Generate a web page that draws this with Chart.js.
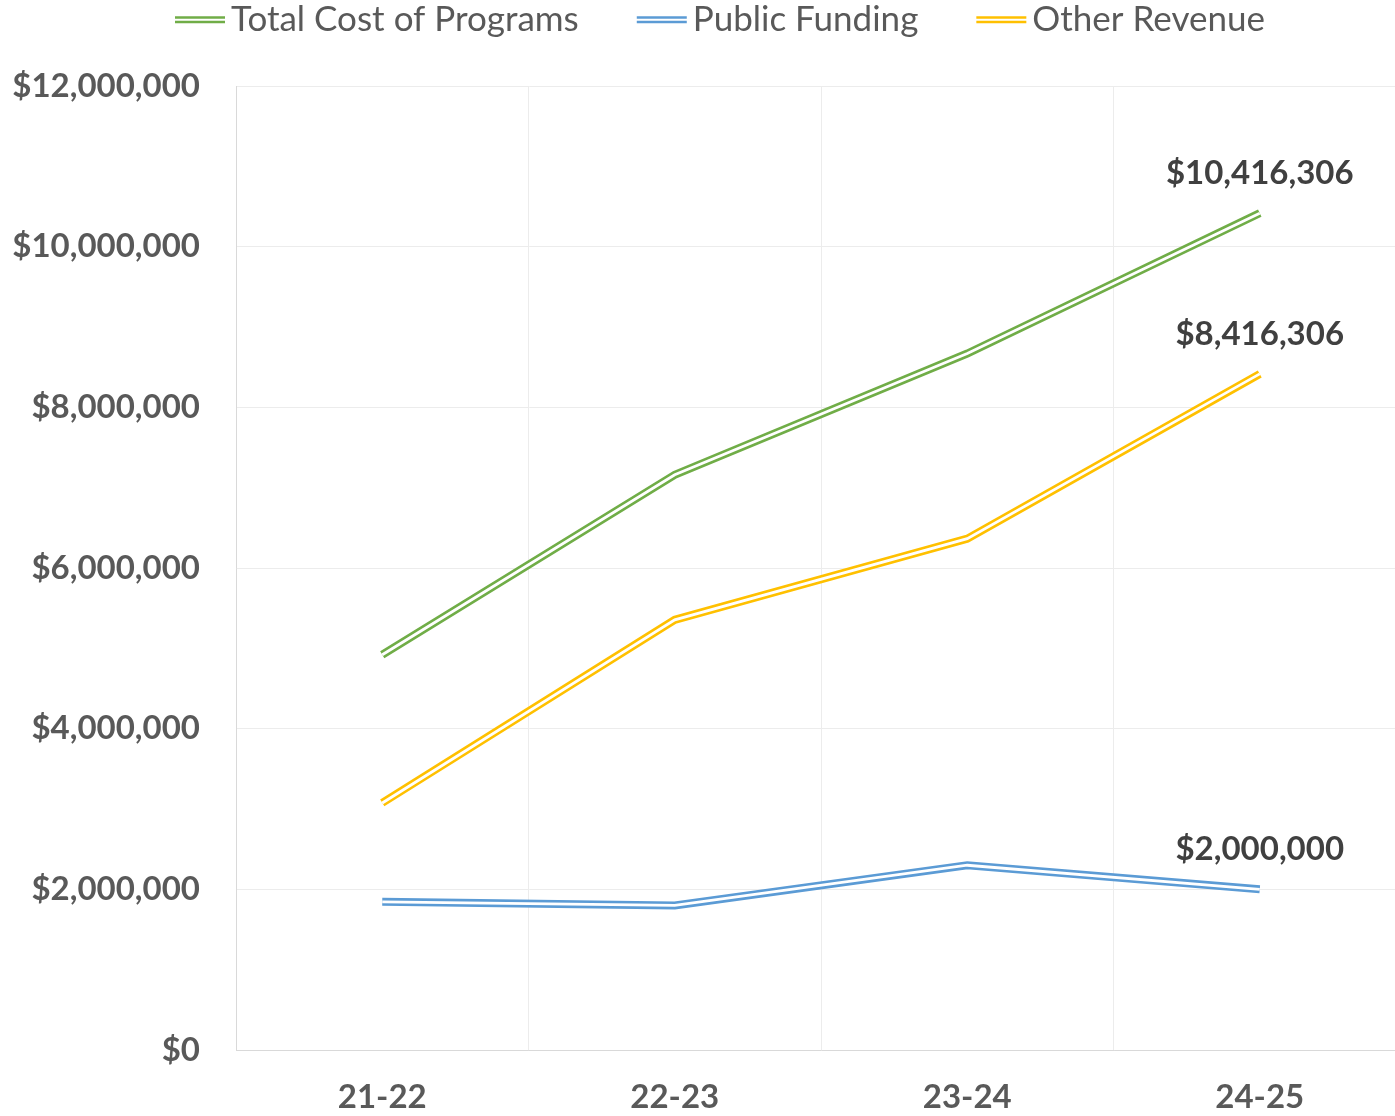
<!DOCTYPE html>
<html>
<head>
<meta charset="utf-8">
<script src="https://cdn.jsdelivr.net/npm/chart.js@4.4.1/dist/chart.umd.min.js"></script>
<style>
  html, body { margin: 0; padding: 0; background: #fff; overflow: hidden; }
  #wrap { position: absolute; left: 0; top: 0; width: 1408px; height: 1116px; }
</style>
</head>
<body>
<div id="wrap"><canvas id="chart" width="1408" height="1116"></canvas></div>
<script>
// values
const years = ["21-22", "22-23", "23-24", "24-25"];
const totalCost = [4920000, 7160000, 8670000, 10416306];
const publicFunding = [1845000, 1800000, 2300000, 2000000];
const otherRevenue = [3075000, 5355000, 6365000, 8416306];
const yTicks = [0, 2000000, 4000000, 6000000, 8000000, 10000000, 12000000];

const GREEN = "#70AD47";
const BLUE = "#5B9BD5";
const GOLD = "#FFC000";
const FONT = "Lato, 'Open Sans', sans-serif";

function money(v) {
    return "$" + Number(v).toLocaleString("en-US");
}

// each series is drawn as a thick coloured line with a thin white line on top,
// which gives the "double" stroke of the original
function outer(label, data, color) {
    return {
        label: label,
        data: data,
        borderColor: color,
        backgroundColor: color,
        borderWidth: 8,
        pointRadius: 0,
        tension: 0,
        fill: false,
        order: 10,
        isOuter: true,
    };
}
function inner(label, data) {
    return {
        label: label + " (inner)",
        data: data,
        borderColor: "#ffffff",
        borderWidth: 2.8,
        pointRadius: 0,
        tension: 0,
        fill: false,
        order: 1,
    };
}

const endLabels = {
    id: "endLabels",
    afterDatasetsDraw(chart) {
        const ctx = chart.ctx;
        ctx.save();
        ctx.font = "bold 33px " + FONT;
        ctx.fillStyle = "#404040";
        ctx.textAlign = "center";
        ctx.textBaseline = "middle";
        chart.data.datasets.forEach((ds, i) => {
            if (!ds.isOuter) return;
            const meta = chart.getDatasetMeta(i);
            const last = meta.data[meta.data.length - 1];
            ctx.fillText(money(ds.data[ds.data.length - 1]), last.x, last.y - 40);
        });
        ctx.restore();
    },
};

// legend with double-line swatches, centred like the original
const doubleLegend = {
    id: "doubleLegend",
    afterDraw(chart) {
        const ctx = chart.ctx;
        const items = chart.data.datasets.filter((d) => d.isOuter);
        const lineW = 50, gapText = 6, gapItem = 58, cy = 20;
        ctx.save();
        ctx.font = "35px " + FONT;
        ctx.textBaseline = "middle";
        ctx.textAlign = "left";
        const widths = items.map((d) => ctx.measureText(d.label).width);
        const total = widths.reduce((a, w) => a + lineW + gapText + w, 0) + gapItem * (items.length - 1);
        let x = 720 - total / 2;
        items.forEach((d, i) => {
            ctx.strokeStyle = d.borderColor;
            ctx.lineWidth = 2.5;
            [cy - 2.5, cy + 2].forEach((y) => {
                ctx.beginPath();
                ctx.moveTo(x, y);
                ctx.lineTo(x + lineW, y);
                ctx.stroke();
            });
            ctx.fillStyle = "#595959";
            ctx.fillText(d.label, x + lineW + gapText, cy);
            x += lineW + gapText + widths[i] + gapItem;
        });
        ctx.restore();
    },
};

new Chart(document.getElementById("chart"), {
    type: "line",
    data: {
        labels: years,
        datasets: [
            outer("Total Cost of Programs", totalCost, GREEN),
            outer("Public Funding", publicFunding, BLUE),
            outer("Other Revenue", otherRevenue, GOLD),
            inner("Total Cost of Programs", totalCost),
            inner("Public Funding", publicFunding),
            inner("Other Revenue", otherRevenue),
        ],
    },
    options: {
        responsive: false,
        animation: false,
        layout: { padding: { top: 86, right: 2, bottom: 0, left: 0 } },
        plugins: {
            tooltip: { enabled: false },
            legend: { display: false },
        },
        scales: {
            x: {
                offset: true,
                grid: { offset: true, color: "#ececec", drawTicks: false },
                border: { color: "#d9d9d9" },
                ticks: {
                    color: "#595959",
                    font: { size: 33, weight: "bold", family: FONT },
                    padding: 28,
                },
                afterFit(scale) {
                    scale.height = 66;
                },
            },
            y: {
                min: 0,
                max: 12000000,
                afterBuildTicks(scale) {
                    scale.ticks = yTicks.map((v) => ({ value: v }));
                },
                grid: { color: "#ececec", drawTicks: false },
                border: { color: "#d9d9d9" },
                ticks: {
                    color: "#595959",
                    font: { size: 33, weight: "bold", family: FONT },
                    padding: 36,
                    callback: (v) => money(v),
                },
                afterFit(scale) {
                    scale.width = 236;
                },
            },
        },
    },
    plugins: [endLabels, doubleLegend],
});
</script>
</body>
</html>
